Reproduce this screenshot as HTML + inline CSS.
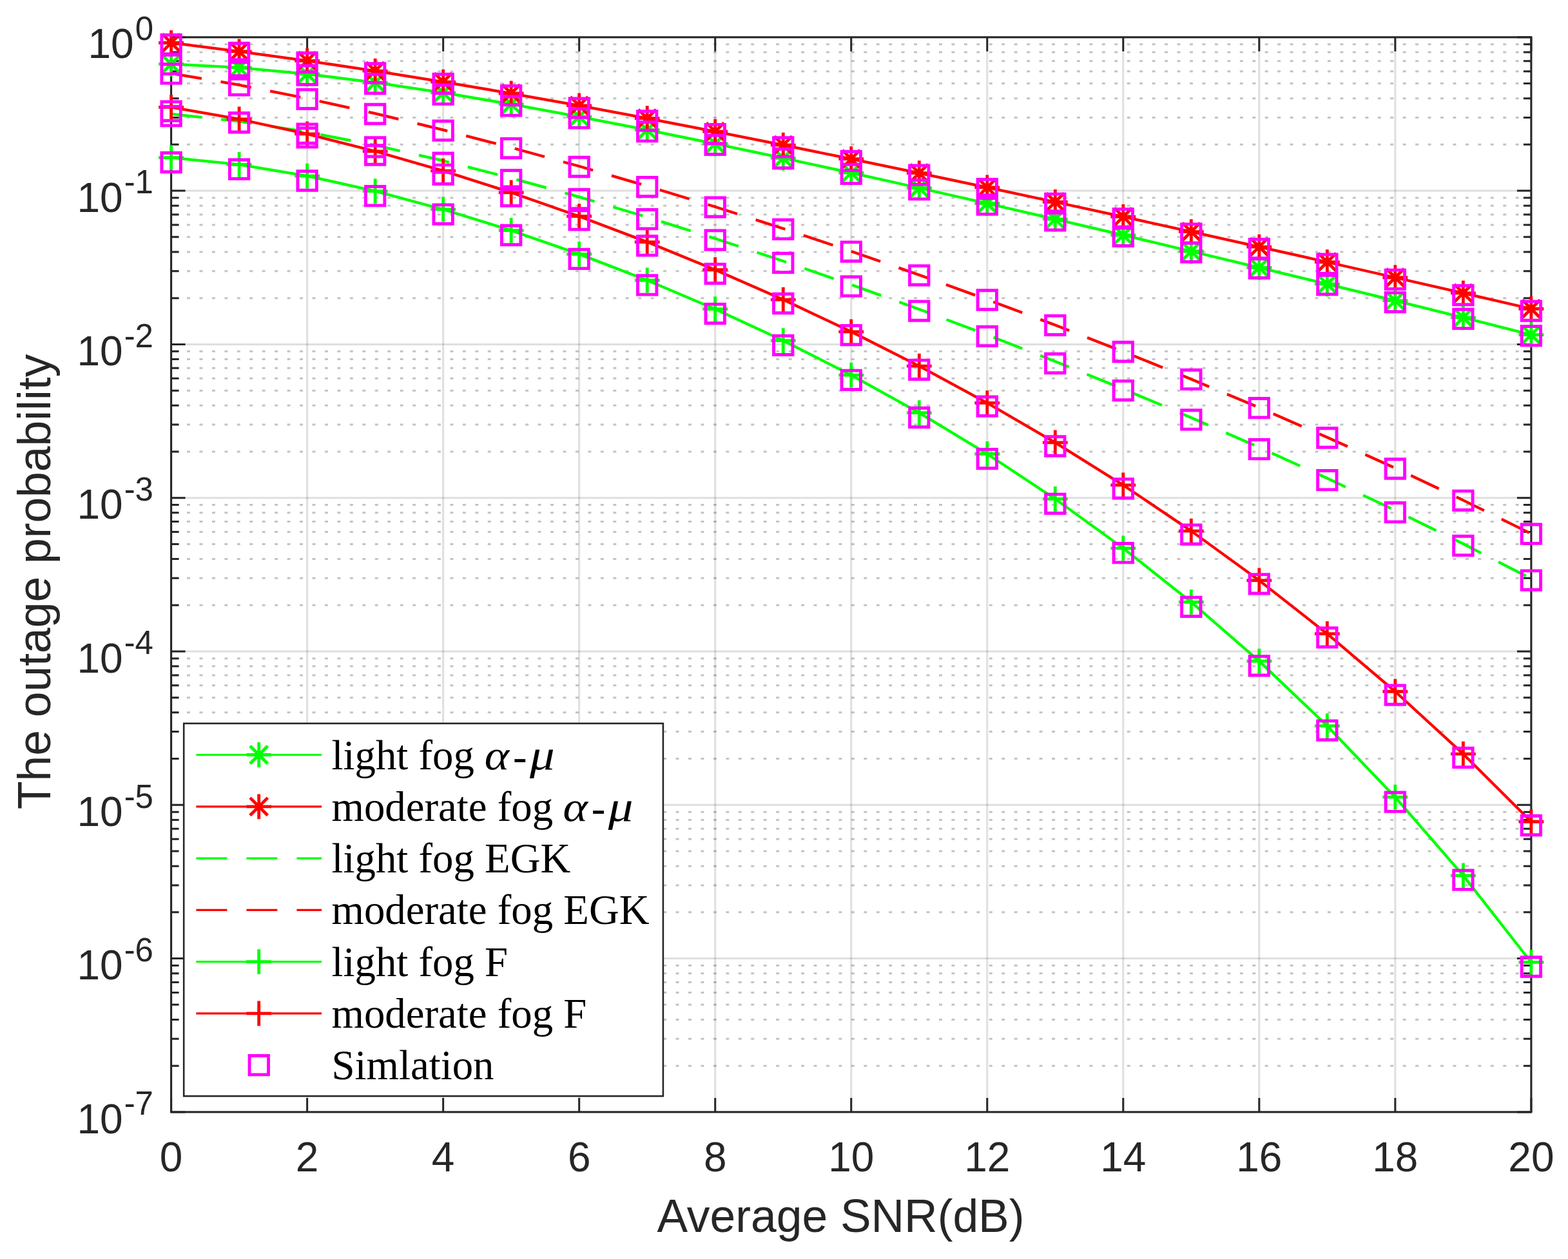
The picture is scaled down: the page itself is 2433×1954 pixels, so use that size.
<!DOCTYPE html>
<html><head><meta charset="utf-8"><title>Outage probability</title><style>html,body{margin:0;padding:0;background:#fff;}svg{display:block;}</style></head><body>
<svg width="2433" height="1954" viewBox="0 0 2433 1954">
<rect x="0" y="0" width="2433" height="1954" fill="#ffffff"/>
<path d="M265.60 224.36H2375.90M265.60 182.40H2375.90M265.60 152.63H2375.90M265.60 129.54H2375.90M265.60 110.67H2375.90M265.60 94.71H2375.90M265.60 80.89H2375.90M265.60 68.70H2375.90M265.60 462.66H2375.90M265.60 420.70H2375.90M265.60 390.93H2375.90M265.60 367.84H2375.90M265.60 348.97H2375.90M265.60 333.01H2375.90M265.60 319.19H2375.90M265.60 307.00H2375.90M265.60 700.96H2375.90M265.60 659.00H2375.90M265.60 629.23H2375.90M265.60 606.14H2375.90M265.60 587.27H2375.90M265.60 571.31H2375.90M265.60 557.49H2375.90M265.60 545.30H2375.90M265.60 939.26H2375.90M265.60 897.30H2375.90M265.60 867.53H2375.90M265.60 844.44H2375.90M265.60 825.57H2375.90M265.60 809.61H2375.90M265.60 795.79H2375.90M265.60 783.60H2375.90M265.60 1177.56H2375.90M265.60 1135.60H2375.90M265.60 1105.83H2375.90M265.60 1082.74H2375.90M265.60 1063.87H2375.90M265.60 1047.91H2375.90M265.60 1034.09H2375.90M265.60 1021.90H2375.90M265.60 1415.86H2375.90M265.60 1373.90H2375.90M265.60 1344.13H2375.90M265.60 1321.04H2375.90M265.60 1302.17H2375.90M265.60 1286.21H2375.90M265.60 1272.39H2375.90M265.60 1260.20H2375.90M265.60 1654.16H2375.90M265.60 1612.20H2375.90M265.60 1582.43H2375.90M265.60 1559.34H2375.90M265.60 1540.47H2375.90M265.60 1524.51H2375.90M265.60 1510.69H2375.90M265.60 1498.50H2375.90" stroke="#262626" stroke-opacity="0.28" stroke-width="3" stroke-dasharray="4.9 14.55" stroke-dashoffset="14.45" fill="none"/>
<path d="M265.60 296.10H2375.90M265.60 534.40H2375.90M265.60 772.70H2375.90M265.60 1011.00H2375.90M265.60 1249.30H2375.90M265.60 1487.60H2375.90" stroke="#262626" stroke-opacity="0.15" stroke-width="3" fill="none"/>
<path d="M476.63 57.80V1725.90M687.66 57.80V1725.90M898.69 57.80V1725.90M1109.72 57.80V1725.90M1320.75 57.80V1725.90M1531.78 57.80V1725.90M1742.81 57.80V1725.90M1953.84 57.80V1725.90M2164.87 57.80V1725.90" stroke="#262626" stroke-opacity="0.15" stroke-width="3" fill="none"/>
<path d="M265.60 57.80h22.0M2375.90 57.80h-22.0M265.60 296.10h22.0M2375.90 296.10h-22.0M265.60 534.40h22.0M2375.90 534.40h-22.0M265.60 772.70h22.0M2375.90 772.70h-22.0M265.60 1011.00h22.0M2375.90 1011.00h-22.0M265.60 1249.30h22.0M2375.90 1249.30h-22.0M265.60 1487.60h22.0M2375.90 1487.60h-22.0M265.60 1725.90h22.0M2375.90 1725.90h-22.0M265.60 224.36h12.0M2375.90 224.36h-12.0M265.60 182.40h12.0M2375.90 182.40h-12.0M265.60 152.63h12.0M2375.90 152.63h-12.0M265.60 129.54h12.0M2375.90 129.54h-12.0M265.60 110.67h12.0M2375.90 110.67h-12.0M265.60 94.71h12.0M2375.90 94.71h-12.0M265.60 80.89h12.0M2375.90 80.89h-12.0M265.60 68.70h12.0M2375.90 68.70h-12.0M265.60 462.66h12.0M2375.90 462.66h-12.0M265.60 420.70h12.0M2375.90 420.70h-12.0M265.60 390.93h12.0M2375.90 390.93h-12.0M265.60 367.84h12.0M2375.90 367.84h-12.0M265.60 348.97h12.0M2375.90 348.97h-12.0M265.60 333.01h12.0M2375.90 333.01h-12.0M265.60 319.19h12.0M2375.90 319.19h-12.0M265.60 307.00h12.0M2375.90 307.00h-12.0M265.60 700.96h12.0M2375.90 700.96h-12.0M265.60 659.00h12.0M2375.90 659.00h-12.0M265.60 629.23h12.0M2375.90 629.23h-12.0M265.60 606.14h12.0M2375.90 606.14h-12.0M265.60 587.27h12.0M2375.90 587.27h-12.0M265.60 571.31h12.0M2375.90 571.31h-12.0M265.60 557.49h12.0M2375.90 557.49h-12.0M265.60 545.30h12.0M2375.90 545.30h-12.0M265.60 939.26h12.0M2375.90 939.26h-12.0M265.60 897.30h12.0M2375.90 897.30h-12.0M265.60 867.53h12.0M2375.90 867.53h-12.0M265.60 844.44h12.0M2375.90 844.44h-12.0M265.60 825.57h12.0M2375.90 825.57h-12.0M265.60 809.61h12.0M2375.90 809.61h-12.0M265.60 795.79h12.0M2375.90 795.79h-12.0M265.60 783.60h12.0M2375.90 783.60h-12.0M265.60 1177.56h12.0M2375.90 1177.56h-12.0M265.60 1135.60h12.0M2375.90 1135.60h-12.0M265.60 1105.83h12.0M2375.90 1105.83h-12.0M265.60 1082.74h12.0M2375.90 1082.74h-12.0M265.60 1063.87h12.0M2375.90 1063.87h-12.0M265.60 1047.91h12.0M2375.90 1047.91h-12.0M265.60 1034.09h12.0M2375.90 1034.09h-12.0M265.60 1021.90h12.0M2375.90 1021.90h-12.0M265.60 1415.86h12.0M2375.90 1415.86h-12.0M265.60 1373.90h12.0M2375.90 1373.90h-12.0M265.60 1344.13h12.0M2375.90 1344.13h-12.0M265.60 1321.04h12.0M2375.90 1321.04h-12.0M265.60 1302.17h12.0M2375.90 1302.17h-12.0M265.60 1286.21h12.0M2375.90 1286.21h-12.0M265.60 1272.39h12.0M2375.90 1272.39h-12.0M265.60 1260.20h12.0M2375.90 1260.20h-12.0M265.60 1654.16h12.0M2375.90 1654.16h-12.0M265.60 1612.20h12.0M2375.90 1612.20h-12.0M265.60 1582.43h12.0M2375.90 1582.43h-12.0M265.60 1559.34h12.0M2375.90 1559.34h-12.0M265.60 1540.47h12.0M2375.90 1540.47h-12.0M265.60 1524.51h12.0M2375.90 1524.51h-12.0M265.60 1510.69h12.0M2375.90 1510.69h-12.0M265.60 1498.50h12.0M2375.90 1498.50h-12.0M265.60 1725.90v-22.0M265.60 57.80v22.0M476.63 1725.90v-22.0M476.63 57.80v22.0M687.66 1725.90v-22.0M687.66 57.80v22.0M898.69 1725.90v-22.0M898.69 57.80v22.0M1109.72 1725.90v-22.0M1109.72 57.80v22.0M1320.75 1725.90v-22.0M1320.75 57.80v22.0M1531.78 1725.90v-22.0M1531.78 57.80v22.0M1742.81 1725.90v-22.0M1742.81 57.80v22.0M1953.84 1725.90v-22.0M1953.84 57.80v22.0M2164.87 1725.90v-22.0M2164.87 57.80v22.0M2375.90 1725.90v-22.0M2375.90 57.80v22.0" stroke="#262626" stroke-width="3" fill="none"/>
<rect x="265.60" y="57.80" width="2110.30" height="1668.10" stroke="#262626" stroke-width="3.1" fill="none"/>
<g font-family="Liberation Sans, Arial, Helvetica, sans-serif" fill="#262626">
<text x="265.60" y="1818" font-size="64" text-anchor="middle">0</text>
<text x="476.63" y="1818" font-size="64" text-anchor="middle">2</text>
<text x="687.66" y="1818" font-size="64" text-anchor="middle">4</text>
<text x="898.69" y="1818" font-size="64" text-anchor="middle">6</text>
<text x="1109.72" y="1818" font-size="64" text-anchor="middle">8</text>
<text x="1320.75" y="1818" font-size="64" text-anchor="middle">10</text>
<text x="1531.78" y="1818" font-size="64" text-anchor="middle">12</text>
<text x="1742.81" y="1818" font-size="64" text-anchor="middle">14</text>
<text x="1953.84" y="1818" font-size="64" text-anchor="middle">16</text>
<text x="2164.87" y="1818" font-size="64" text-anchor="middle">18</text>
<text x="2375.90" y="1818" font-size="64" text-anchor="middle">20</text>
<text x="238" y="90.40" font-size="64" text-anchor="end">10<tspan font-size="51" dx="2" dy="-28.4">0</tspan></text>
<text x="238" y="328.70" font-size="64" text-anchor="end">10<tspan font-size="51" dx="2" dy="-28.4">-1</tspan></text>
<text x="238" y="567.00" font-size="64" text-anchor="end">10<tspan font-size="51" dx="2" dy="-28.4">-2</tspan></text>
<text x="238" y="805.30" font-size="64" text-anchor="end">10<tspan font-size="51" dx="2" dy="-28.4">-3</tspan></text>
<text x="238" y="1043.60" font-size="64" text-anchor="end">10<tspan font-size="51" dx="2" dy="-28.4">-4</tspan></text>
<text x="238" y="1281.90" font-size="64" text-anchor="end">10<tspan font-size="51" dx="2" dy="-28.4">-5</tspan></text>
<text x="238" y="1520.20" font-size="64" text-anchor="end">10<tspan font-size="51" dx="2" dy="-28.4">-6</tspan></text>
<text x="238" y="1758.50" font-size="64" text-anchor="end">10<tspan font-size="51" dx="2" dy="-28.4">-7</tspan></text>
</g>
<text x="1304.5" y="1912.4" font-size="71.4" text-anchor="middle" font-family="Liberation Sans, Arial, Helvetica, sans-serif" fill="#262626">Average SNR(dB)</text>
<text transform="translate(78 902.9) rotate(-90)" x="0" y="0" font-size="71.4" text-anchor="middle" font-family="Liberation Sans, Arial, Helvetica, sans-serif" fill="#262626">The outage probability</text>
<polyline points="265.60,99.38 371.12,104.90 476.63,114.81 582.14,128.09 687.66,143.92 793.18,161.72 898.69,181.04 1004.21,201.55 1109.72,223.02 1215.24,245.28 1320.75,268.22 1426.27,291.73 1531.78,315.73 1637.30,340.16 1742.81,364.93 1848.33,390.00 1953.84,415.33 2059.36,440.88 2164.87,466.70 2270.39,492.86 2375.90,519.55" stroke="#00ff00" stroke-width="4.3" fill="none" stroke-linejoin="round"/>
<path d="M246.20 99.38H285.00M265.60 79.98V118.78M251.90 85.68L279.30 113.08M251.90 113.08L279.30 85.68M351.72 104.90H390.51M371.12 85.50V124.30M357.42 91.20L384.81 118.60M357.42 118.60L384.81 91.20M457.23 114.81H496.03M476.63 95.41V134.21M462.93 101.11L490.33 128.51M462.93 128.51L490.33 101.11M562.75 128.09H601.54M582.14 108.69V147.49M568.44 114.39L595.85 141.79M568.44 141.79L595.85 114.39M668.26 143.92H707.06M687.66 124.52V163.32M673.96 130.22L701.36 157.62M673.96 157.62L701.36 130.22M773.78 161.72H812.58M793.18 142.32V181.12M779.48 148.02L806.88 175.42M779.48 175.42L806.88 148.02M879.29 181.04H918.09M898.69 161.64V200.44M884.99 167.34L912.39 194.74M884.99 194.74L912.39 167.34M984.81 201.55H1023.61M1004.21 182.15V220.95M990.51 187.85L1017.91 215.25M990.51 215.25L1017.91 187.85M1090.32 223.02H1129.12M1109.72 203.62V242.42M1096.02 209.32L1123.42 236.72M1096.02 236.72L1123.42 209.32M1195.84 245.28H1234.64M1215.24 225.88V264.68M1201.54 231.58L1228.94 258.98M1201.54 258.98L1228.94 231.58M1301.35 268.22H1340.15M1320.75 248.82V287.62M1307.05 254.52L1334.45 281.92M1307.05 281.92L1334.45 254.52M1406.87 291.73H1445.67M1426.27 272.33V311.13M1412.57 278.03L1439.97 305.43M1412.57 305.43L1439.97 278.03M1512.38 315.73H1551.18M1531.78 296.33V335.13M1518.08 302.03L1545.48 329.43M1518.08 329.43L1545.48 302.03M1617.89 340.16H1656.70M1637.30 320.76V359.56M1623.60 326.46L1651.00 353.86M1623.60 353.86L1651.00 326.46M1723.41 364.93H1762.21M1742.81 345.53V384.33M1729.11 351.23L1756.51 378.63M1729.11 378.63L1756.51 351.23M1828.93 390.00H1867.73M1848.33 370.60V409.40M1834.63 376.30L1862.03 403.70M1834.63 403.70L1862.03 376.30M1934.44 415.33H1973.24M1953.84 395.93V434.73M1940.14 401.63L1967.54 429.03M1940.14 429.03L1967.54 401.63M2039.96 440.88H2078.76M2059.36 421.48V460.28M2045.66 427.18L2073.06 454.58M2045.66 454.58L2073.06 427.18M2145.47 466.70H2184.27M2164.87 447.30V486.10M2151.17 453.00L2178.57 480.40M2151.17 480.40L2178.57 453.00M2250.99 492.86H2289.79M2270.39 473.46V512.26M2256.69 479.16L2284.09 506.56M2256.69 506.56L2284.09 479.16M2356.50 519.55H2395.30M2375.90 500.15V538.95M2362.20 505.85L2389.60 533.25M2362.20 533.25L2389.60 505.85" stroke="#00ff00" stroke-width="4.8" fill="none"/>
<polyline points="265.60,66.48 371.12,79.78 476.63,94.32 582.14,110.10 687.66,127.03 793.18,145.02 898.69,163.95 1004.21,183.70 1109.72,204.15 1215.24,225.18 1320.75,246.70 1426.27,268.63 1531.78,290.91 1637.30,313.51 1742.81,336.40 1848.33,359.57 1953.84,383.03 2059.36,406.77 2164.87,430.76 2270.39,454.95 2375.90,479.26" stroke="#ff0000" stroke-width="4.3" fill="none" stroke-linejoin="round"/>
<path d="M246.20 66.48H285.00M265.60 47.08V85.88M251.90 52.78L279.30 80.18M251.90 80.18L279.30 52.78M351.72 79.78H390.51M371.12 60.38V99.18M357.42 66.08L384.81 93.48M357.42 93.48L384.81 66.08M457.23 94.32H496.03M476.63 74.92V113.72M462.93 80.62L490.33 108.02M462.93 108.02L490.33 80.62M562.75 110.10H601.54M582.14 90.70V129.50M568.44 96.40L595.85 123.80M568.44 123.80L595.85 96.40M668.26 127.03H707.06M687.66 107.63V146.43M673.96 113.33L701.36 140.73M673.96 140.73L701.36 113.33M773.78 145.02H812.58M793.18 125.62V164.42M779.48 131.32L806.88 158.72M779.48 158.72L806.88 131.32M879.29 163.95H918.09M898.69 144.55V183.35M884.99 150.25L912.39 177.65M884.99 177.65L912.39 150.25M984.81 183.70H1023.61M1004.21 164.30V203.10M990.51 170.00L1017.91 197.40M990.51 197.40L1017.91 170.00M1090.32 204.15H1129.12M1109.72 184.75V223.55M1096.02 190.45L1123.42 217.85M1096.02 217.85L1123.42 190.45M1195.84 225.18H1234.64M1215.24 205.78V244.58M1201.54 211.48L1228.94 238.88M1201.54 238.88L1228.94 211.48M1301.35 246.70H1340.15M1320.75 227.30V266.10M1307.05 233.00L1334.45 260.40M1307.05 260.40L1334.45 233.00M1406.87 268.63H1445.67M1426.27 249.23V288.03M1412.57 254.93L1439.97 282.33M1412.57 282.33L1439.97 254.93M1512.38 290.91H1551.18M1531.78 271.51V310.31M1518.08 277.21L1545.48 304.61M1518.08 304.61L1545.48 277.21M1617.89 313.51H1656.70M1637.30 294.11V332.91M1623.60 299.81L1651.00 327.21M1623.60 327.21L1651.00 299.81M1723.41 336.40H1762.21M1742.81 317.00V355.80M1729.11 322.70L1756.51 350.10M1729.11 350.10L1756.51 322.70M1828.93 359.57H1867.73M1848.33 340.17V378.97M1834.63 345.87L1862.03 373.27M1834.63 373.27L1862.03 345.87M1934.44 383.03H1973.24M1953.84 363.63V402.43M1940.14 369.33L1967.54 396.73M1940.14 396.73L1967.54 369.33M2039.96 406.77H2078.76M2059.36 387.37V426.17M2045.66 393.07L2073.06 420.47M2045.66 420.47L2073.06 393.07M2145.47 430.76H2184.27M2164.87 411.36V450.16M2151.17 417.06L2178.57 444.46M2151.17 444.46L2178.57 417.06M2250.99 454.95H2289.79M2270.39 435.55V474.35M2256.69 441.25L2284.09 468.65M2256.69 468.65L2284.09 441.25M2356.50 479.26H2395.30M2375.90 459.86V498.66M2362.20 465.56L2389.60 492.96M2362.20 492.96L2389.60 465.56" stroke="#ff0000" stroke-width="4.8" fill="none"/>
<polyline points="265.60,176.81 371.12,188.34 476.63,204.85 582.14,225.45 687.66,249.46 793.18,276.33 898.69,305.62 1004.21,337.01 1109.72,370.28 1215.24,405.26 1320.75,441.85 1426.27,479.99 1531.78,519.67 1637.30,560.90 1742.81,603.71 1848.33,648.16 1953.84,694.32 2059.36,742.28 2164.87,792.15 2270.39,844.04 2375.90,898.13" stroke="#00ff00" stroke-width="4.3" fill="none" stroke-linejoin="round" stroke-dasharray="48 30"/>
<polyline points="265.60,113.79 371.12,131.89 476.63,152.82 582.14,176.17 687.66,201.63 793.18,228.97 898.69,258.04 1004.21,288.74 1109.72,320.98 1215.24,354.74 1320.75,389.97 1426.27,426.68 1531.78,464.87 1637.30,504.53 1742.81,545.70 1848.33,588.41 1953.84,632.71 2059.36,678.70 2164.87,726.51 2270.39,776.33 2375.90,828.42" stroke="#ff0000" stroke-width="4.3" fill="none" stroke-linejoin="round" stroke-dasharray="48 30"/>
<polyline points="265.60,244.61 371.12,255.32 476.63,273.08 582.14,296.59 687.66,324.97 793.18,357.66 898.69,394.37 1004.21,435.02 1109.72,479.70 1215.24,528.63 1320.75,582.13 1426.27,640.60 1531.78,704.51 1637.30,774.38 1742.81,850.81 1848.33,934.47 1953.84,1026.12 2059.36,1126.67 2164.87,1237.18 2270.39,1358.93 2375.90,1493.47" stroke="#00ff00" stroke-width="4.3" fill="none" stroke-linejoin="round"/>
<path d="M246.20 244.61H285.00M265.60 225.21V264.01M351.72 255.32H390.51M371.12 235.92V274.72M457.23 273.08H496.03M476.63 253.68V292.48M562.75 296.59H601.54M582.14 277.19V315.99M668.26 324.97H707.06M687.66 305.57V344.37M773.78 357.66H812.58M793.18 338.26V377.06M879.29 394.37H918.09M898.69 374.97V413.77M984.81 435.02H1023.61M1004.21 415.62V454.42M1090.32 479.70H1129.12M1109.72 460.30V499.10M1195.84 528.63H1234.64M1215.24 509.23V548.03M1301.35 582.13H1340.15M1320.75 562.73V601.53M1406.87 640.60H1445.67M1426.27 621.20V660.00M1512.38 704.51H1551.18M1531.78 685.11V723.91M1617.89 774.38H1656.70M1637.30 754.98V793.78M1723.41 850.81H1762.21M1742.81 831.41V870.21M1828.93 934.47H1867.73M1848.33 915.07V953.87M1934.44 1026.12H1973.24M1953.84 1006.72V1045.52M2039.96 1126.67H2078.76M2059.36 1107.27V1146.07M2145.47 1237.18H2184.27M2164.87 1217.78V1256.58M2250.99 1358.93H2289.79M2270.39 1339.53V1378.33M2356.50 1493.47H2395.30M2375.90 1474.07V1512.87" stroke="#00ff00" stroke-width="4.8" fill="none"/>
<polyline points="265.60,166.32 371.12,184.98 476.63,207.95 582.14,234.79 687.66,265.16 793.18,298.83 898.69,335.68 1004.21,375.63 1109.72,418.73 1215.24,465.05 1320.75,514.78 1426.27,568.12 1531.78,625.36 1637.30,686.84 1742.81,752.94 1848.33,824.12 1953.84,900.85 2059.36,983.69 2164.87,1073.25 2270.39,1170.19 2375.90,1275.23" stroke="#ff0000" stroke-width="4.3" fill="none" stroke-linejoin="round"/>
<path d="M246.20 166.32H285.00M265.60 146.92V185.72M351.72 184.98H390.51M371.12 165.58V204.38M457.23 207.95H496.03M476.63 188.55V227.35M562.75 234.79H601.54M582.14 215.39V254.19M668.26 265.16H707.06M687.66 245.76V284.56M773.78 298.83H812.58M793.18 279.43V318.23M879.29 335.68H918.09M898.69 316.28V355.08M984.81 375.63H1023.61M1004.21 356.23V395.03M1090.32 418.73H1129.12M1109.72 399.33V438.13M1195.84 465.05H1234.64M1215.24 445.65V484.45M1301.35 514.78H1340.15M1320.75 495.38V534.18M1406.87 568.12H1445.67M1426.27 548.72V587.52M1512.38 625.36H1551.18M1531.78 605.96V644.76M1617.89 686.84H1656.70M1637.30 667.44V706.24M1723.41 752.94H1762.21M1742.81 733.54V772.34M1828.93 824.12H1867.73M1848.33 804.72V843.52M1934.44 900.85H1973.24M1953.84 881.45V920.25M2039.96 983.69H2078.76M2059.36 964.29V1003.09M2145.47 1073.25H2184.27M2164.87 1053.85V1092.65M2250.99 1170.19H2289.79M2270.39 1150.79V1189.59M2356.50 1275.23H2395.30M2375.90 1255.83V1294.63" stroke="#ff0000" stroke-width="4.8" fill="none"/>
<path d="M250.90 85.20H280.30V114.60H250.90ZM356.42 92.80H385.81V122.20H356.42ZM461.93 101.90H491.33V131.30H461.93ZM567.44 115.40H596.85V144.80H567.44ZM672.96 132.00H702.36V161.40H672.96ZM778.48 149.70H807.88V179.10H778.48ZM883.99 168.70H913.39V198.10H883.99ZM989.51 189.50H1018.91V218.90H989.51ZM1095.02 210.10H1124.42V239.50H1095.02ZM1200.54 231.30H1229.94V260.70H1200.54ZM1306.05 255.20H1335.45V284.60H1306.05ZM1411.57 279.50H1440.97V308.90H1411.57ZM1517.08 303.00H1546.48V332.40H1517.08ZM1622.60 327.60H1652.00V357.00H1622.60ZM1728.11 352.10H1757.51V381.50H1728.11ZM1833.63 376.90H1863.03V406.30H1833.63ZM1939.14 401.90H1968.54V431.30H1939.14ZM2044.66 427.40H2074.06V456.80H2044.66ZM2150.17 454.40H2179.57V483.80H2150.17ZM2255.69 480.20H2285.09V509.60H2255.69ZM2361.20 506.50H2390.60V535.90H2361.20ZM250.90 54.30H280.30V83.70H250.90ZM356.42 67.30H385.81V96.70H356.42ZM461.93 82.30H491.33V111.70H461.93ZM567.44 98.80H596.85V128.20H567.44ZM672.96 115.30H702.36V144.70H672.96ZM778.48 133.40H807.88V162.80H778.48ZM883.99 153.00H913.39V182.40H883.99ZM989.51 172.80H1018.91V202.20H989.51ZM1095.02 193.40H1124.42V222.80H1095.02ZM1200.54 213.60H1229.94V243.00H1200.54ZM1306.05 235.20H1335.45V264.60H1306.05ZM1411.57 256.90H1440.97V286.30H1411.57ZM1517.08 278.50H1546.48V307.90H1517.08ZM1622.60 301.10H1652.00V330.50H1622.60ZM1728.11 324.60H1757.51V354.00H1728.11ZM1833.63 347.90H1863.03V377.30H1833.63ZM1939.14 371.40H1968.54V400.80H1939.14ZM2044.66 395.00H2074.06V424.40H2044.66ZM2150.17 419.10H2179.57V448.50H2150.17ZM2255.69 443.40H2285.09V472.80H2255.69ZM2361.20 467.90H2390.60V497.30H2361.20ZM250.90 165.50H280.30V194.90H250.90ZM356.42 175.60H385.81V205.00H356.42ZM461.93 192.90H491.33V222.30H461.93ZM567.44 213.60H596.85V243.00H567.44ZM672.96 238.00H702.36V267.40H672.96ZM778.48 264.50H807.88V293.90H778.48ZM883.99 294.30H913.39V323.70H883.99ZM989.51 325.50H1018.91V354.90H989.51ZM1095.02 357.90H1124.42V387.30H1095.02ZM1200.54 393.20H1229.94V422.60H1200.54ZM1306.05 429.70H1335.45V459.10H1306.05ZM1411.57 467.90H1440.97V497.30H1411.57ZM1517.08 507.20H1546.48V536.60H1517.08ZM1622.60 549.30H1652.00V578.70H1622.60ZM1728.11 591.40H1757.51V620.80H1728.11ZM1833.63 636.70H1863.03V666.10H1833.63ZM1939.14 682.50H1968.54V711.90H1939.14ZM2044.66 730.50H2074.06V759.90H2044.66ZM2150.17 780.50H2179.57V809.90H2150.17ZM2255.69 832.20H2285.09V861.60H2255.69ZM2361.20 885.90H2390.60V915.30H2361.20ZM250.90 99.70H280.30V129.10H250.90ZM356.42 117.70H385.81V147.10H356.42ZM461.93 139.10H491.33V168.50H461.93ZM567.44 162.30H596.85V191.70H567.44ZM672.96 188.00H702.36V217.40H672.96ZM778.48 215.40H807.88V244.80H778.48ZM883.99 244.30H913.39V273.70H883.99ZM989.51 275.40H1018.91V304.80H989.51ZM1095.02 306.90H1124.42V336.30H1095.02ZM1200.54 341.20H1229.94V370.60H1200.54ZM1306.05 375.90H1335.45V405.30H1306.05ZM1411.57 412.60H1440.97V442.00H1411.57ZM1517.08 450.80H1546.48V480.20H1517.08ZM1622.60 490.10H1652.00V519.50H1622.60ZM1728.11 531.30H1757.51V560.70H1728.11ZM1833.63 574.20H1863.03V603.60H1833.63ZM1939.14 618.50H1968.54V647.90H1939.14ZM2044.66 664.80H2074.06V694.20H2044.66ZM2150.17 712.80H2179.57V742.20H2150.17ZM2255.69 762.10H2285.09V791.50H2255.69ZM2361.20 814.00H2390.60V843.40H2361.20ZM250.90 237.30H280.30V266.70H250.90ZM356.42 248.00H385.81V277.40H356.42ZM461.93 265.80H491.33V295.20H461.93ZM567.44 289.50H596.85V318.90H567.44ZM672.96 317.90H702.36V347.30H672.96ZM778.48 350.30H807.88V379.70H778.48ZM883.99 387.20H913.39V416.60H883.99ZM989.51 427.70H1018.91V457.10H989.51ZM1095.02 472.10H1124.42V501.50H1095.02ZM1200.54 521.10H1229.94V550.50H1200.54ZM1306.05 575.10H1335.45V604.50H1306.05ZM1411.57 633.30H1440.97V662.70H1411.57ZM1517.08 697.40H1546.48V726.80H1517.08ZM1622.60 767.10H1652.00V796.50H1622.60ZM1728.11 843.50H1757.51V872.90H1728.11ZM1833.63 927.10H1863.03V956.50H1833.63ZM1939.14 1018.60H1968.54V1048.00H1939.14ZM2044.66 1118.90H2074.06V1148.30H2044.66ZM2150.17 1230.00H2179.57V1259.40H2150.17ZM2255.69 1351.00H2285.09V1380.40H2255.69ZM2361.20 1485.80H2390.60V1515.20H2361.20ZM250.90 157.90H280.30V187.30H250.90ZM356.42 175.50H385.81V204.90H356.42ZM461.93 198.70H491.33V228.10H461.93ZM567.44 225.80H596.85V255.20H567.44ZM672.96 256.10H702.36V285.50H672.96ZM778.48 290.00H807.88V319.40H778.48ZM883.99 326.70H913.39V356.10H883.99ZM989.51 366.70H1018.91V396.10H989.51ZM1095.02 410.10H1124.42V439.50H1095.02ZM1200.54 456.30H1229.94V485.70H1200.54ZM1306.05 505.40H1335.45V534.80H1306.05ZM1411.57 559.10H1440.97V588.50H1411.57ZM1517.08 616.00H1546.48V645.40H1517.08ZM1622.60 677.80H1652.00V707.20H1622.60ZM1728.11 743.60H1757.51V773.00H1728.11ZM1833.63 814.90H1863.03V844.30H1833.63ZM1939.14 891.60H1968.54V921.00H1939.14ZM2044.66 974.60H2074.06V1004.00H2044.66ZM2150.17 1063.90H2179.57V1093.30H2150.17ZM2255.69 1161.20H2285.09V1190.60H2255.69ZM2361.20 1266.30H2390.60V1295.70H2361.20Z" stroke="#ff00ff" stroke-width="4.9" fill="none" stroke-linejoin="miter"/>
<rect x="285.2" y="1122.8" width="743.70" height="578.40" fill="#ffffff" stroke="#262626" stroke-width="2.6"/>
<path d="M304.4 1171.50H499.1" stroke="#00ff00" stroke-width="3.2" fill="none"/>
<path d="M382.30 1171.50H421.10M401.70 1152.10V1190.90M388.00 1157.80L415.40 1185.20M388.00 1185.20L415.40 1157.80" stroke="#00ff00" stroke-width="4.8" fill="none"/>
<text x="514.5" y="1193.60" font-size="64.8" font-family="Liberation Serif, Times New Roman, serif" fill="#000">light fog</text>
<text transform="translate(751.64 1193.60) scale(1.13 1)" font-size="64.8" font-style="italic" font-family="Liberation Serif, Times New Roman, serif" fill="#000">α</text>
<text x="795.90" y="1196.10" font-size="64.8" font-family="Liberation Serif, Times New Roman, serif" fill="#000">-</text>
<text transform="translate(822.00 1193.60) scale(1.19 1)" font-size="64.8" font-style="italic" font-family="Liberation Serif, Times New Roman, serif" fill="#000">μ</text>
<path d="M304.4 1251.78H499.1" stroke="#ff0000" stroke-width="3.2" fill="none"/>
<path d="M382.30 1251.78H421.10M401.70 1232.38V1271.18M388.00 1238.08L415.40 1265.48M388.00 1265.48L415.40 1238.08" stroke="#ff0000" stroke-width="4.8" fill="none"/>
<text x="514.5" y="1273.88" font-size="64.8" font-family="Liberation Serif, Times New Roman, serif" fill="#000">moderate fog</text>
<text transform="translate(873.44 1273.88) scale(1.13 1)" font-size="64.8" font-style="italic" font-family="Liberation Serif, Times New Roman, serif" fill="#000">α</text>
<text x="917.70" y="1276.38" font-size="64.8" font-family="Liberation Serif, Times New Roman, serif" fill="#000">-</text>
<text transform="translate(943.80 1273.88) scale(1.19 1)" font-size="64.8" font-style="italic" font-family="Liberation Serif, Times New Roman, serif" fill="#000">μ</text>
<path d="M304.4 1332.06H499.1" stroke="#00ff00" stroke-width="3.2" stroke-dasharray="48 30" fill="none"/>
<text x="514.5" y="1354.16" font-size="64.8" font-family="Liberation Serif, Times New Roman, serif" fill="#000">light fog EGK</text>
<path d="M304.4 1412.34H499.1" stroke="#ff0000" stroke-width="3.2" stroke-dasharray="48 30" fill="none"/>
<text x="514.5" y="1434.44" font-size="64.8" font-family="Liberation Serif, Times New Roman, serif" fill="#000">moderate fog EGK</text>
<path d="M304.4 1492.62H499.1" stroke="#00ff00" stroke-width="3.2" fill="none"/>
<path d="M382.30 1492.62H421.10M401.70 1473.22V1512.02" stroke="#00ff00" stroke-width="4.8" fill="none"/>
<text x="514.5" y="1514.72" font-size="64.8" font-family="Liberation Serif, Times New Roman, serif" fill="#000">light fog F</text>
<path d="M304.4 1572.90H499.1" stroke="#ff0000" stroke-width="3.2" fill="none"/>
<path d="M382.30 1572.90H421.10M401.70 1553.50V1592.30" stroke="#ff0000" stroke-width="4.8" fill="none"/>
<text x="514.5" y="1595.00" font-size="64.8" font-family="Liberation Serif, Times New Roman, serif" fill="#000">moderate fog F</text>
<path d="M387.10 1638.48H416.50V1667.88H387.10Z" stroke="#ff00ff" stroke-width="4.9" fill="none"/>
<text x="514.5" y="1675.28" font-size="64.8" font-family="Liberation Serif, Times New Roman, serif" fill="#000">Simlation</text>
</svg>
</body></html>
